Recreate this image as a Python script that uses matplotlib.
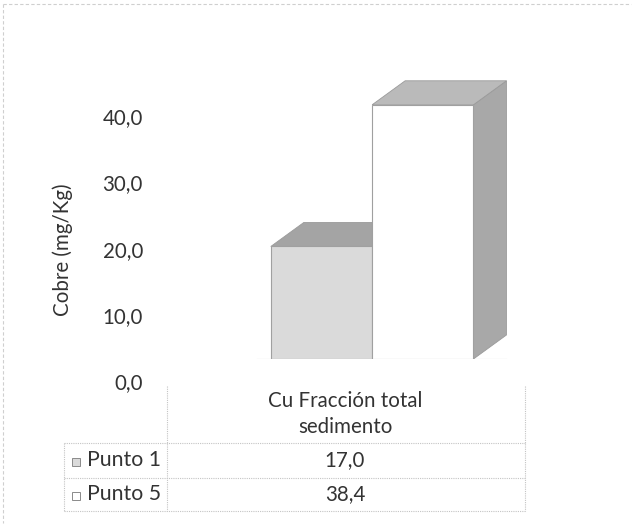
import matplotlib

matplotlib.use("Agg")
import matplotlib.pyplot as plt
from matplotlib.patches import Polygon, Rectangle
from matplotlib.transforms import ScaledTranslation

plt.rcParams["font.family"] = ["Lato", "DejaVu Sans"]

# data
SERIES = ["Punto 1", "Punto 5"]
VALUES = [17.0, 38.4]
CATEGORY = "Cu Fracción total\nsedimento"
Y_TICKS = [0, 10, 20, 30, 40]
Y_LABEL = "Cobre (mg/Kg)"

FRONT = ["#dadada", "#ffffff"]
TOP = ["#a4a4a4", "#bababa"]
SIDE = ["#9e9e9e", "#a8a8a8"]
TEXT = "#333333"
FS = 14.8

W, H, DPI = 634, 526, 100
fig = plt.figure(figsize=(W / DPI, H / DPI), dpi=DPI)


def px(x, y):
    """figure pixel (from top-left) -> figure fraction"""
    return x / W, 1 - y / H


# main plot area: x in [0,1] category column, y in data units
ax_l, ax_r, ax_b = 167, 525, 359
unit = 6.62  # px per mg/Kg
ymax = 45
ax = fig.add_axes([ax_l / W, 1 - ax_b / H, (ax_r - ax_l) / W, ymax * unit / H])
ax.set_xlim(0, 1)
ax.set_ylim(0, ymax)
ax.axis("off")

dx = 33 / (ax_r - ax_l)   # depth in axes x
dy = 24 / unit            # depth in data y
width = 0.283
lefts = [0.29, 0.29 + width]

for i, (v, x0) in enumerate(zip(VALUES, lefts)):
    x1 = x0 + width
    ax.add_patch(Polygon([(x1, 0), (x1 + dx, dy), (x1 + dx, v + dy), (x1, v)],
                         closed=True, fc=SIDE[i], ec="#9a9a9a", lw=0.6, zorder=2 + 3 * i))
    ax.add_patch(Polygon([(x0, v), (x0 + dx, v + dy), (x1 + dx, v + dy), (x1, v)],
                         closed=True, fc=TOP[i], ec="#9a9a9a", lw=0.6, zorder=2 + 3 * i))
    ax.add_patch(Rectangle((x0, 0), width, v, fc=FRONT[i], ec="#a0a0a0", lw=0.8,
                           zorder=3 + 3 * i))

# faint floor line
ax.plot([0.25, lefts[-1] + width + dx], [0, 0], color="#c8c8c8", lw=0.8, zorder=1)

# y tick labels (drawn shifted below the front face, as in the original)
off = ScaledTranslation(-24 / DPI, -24 / DPI, fig.dpi_scale_trans)
for t in Y_TICKS:
    ax.text(0, t, f"{t:.1f}".replace(".", ","), transform=ax.get_yaxis_transform() + off,
            ha="right", va="center", fontsize=FS, color=TEXT)

fig.text(*px(63, 250), Y_LABEL, rotation=90, ha="center", va="center",
         fontsize=FS, color=TEXT)

# data table below the plot
grid = dict(color="#c4c4c4", lw=0.8, ls=(0, (1, 1)))
rows_y = [443, 478, 511]
for y in rows_y:
    fig.add_artist(plt.Line2D([64 / W, 525 / W], [1 - y / H] * 2, **grid))
fig.add_artist(plt.Line2D([167 / W] * 2, [1 - 386 / H, 1 - 511 / H], **grid))
fig.add_artist(plt.Line2D([525 / W] * 2, [1 - 386 / H, 1 - 511 / H], **grid))
fig.add_artist(plt.Line2D([64 / W] * 2, [1 - 443 / H, 1 - 511 / H], **grid))

fig.text(*px(345, 414), CATEGORY, ha="center", va="center", fontsize=FS,
         color=TEXT, linespacing=1.35)
for i, (name, v) in enumerate(zip(SERIES, VALUES)):
    yc = (rows_y[i] + rows_y[i + 1]) / 2
    fig.add_artist(Rectangle(px(72, yc + 5), 8 / W, 8 / H, fc=FRONT[i],
                             ec="#8a8a8a", lw=0.7))
    fig.text(*px(87, yc), name, ha="left", va="center", fontsize=15.3, color=TEXT)
    fig.text(*px(345, yc), f"{v:.1f}".replace(".", ","), ha="center", va="center",
             fontsize=FS, color=TEXT)

# faint outer frame of the scanned chart
edge = dict(color="#cfcfcf", lw=0.8, ls=(0, (3, 2)))
fig.add_artist(plt.Line2D([0.005, 0.995], [1 - 4 / H] * 2, **edge))
fig.add_artist(plt.Line2D([3 / W] * 2, [1 - 4 / H, 0.005], **edge))

fig.savefig("out.png", dpi=DPI)
